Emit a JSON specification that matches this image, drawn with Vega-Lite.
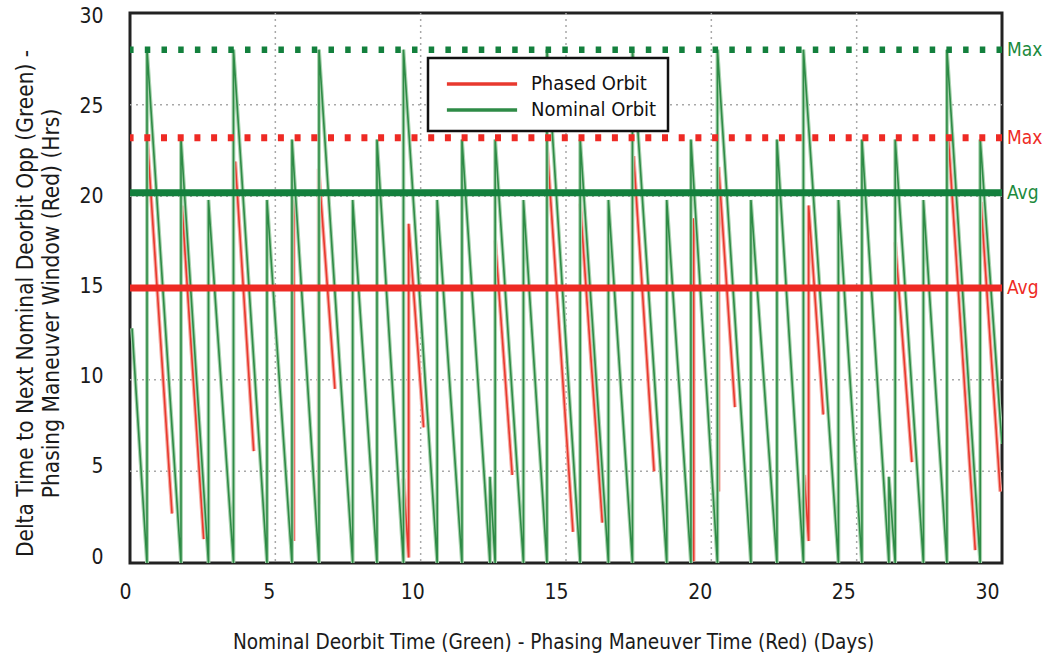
{
 "$schema": "https://vega.github.io/schema/vega-lite/v6.json",
 "width": 872,
 "height": 550,
 "autosize": {"type": "none"},
 "padding": {"left": 130, "top": 13, "right": 44, "bottom": 93},
 "background": "white",
 "config": {
  "font": "'Liberation Sans Narrow', 'DejaVu Sans Condensed', 'Roboto Condensed', sans-serif",
  "view": {"stroke": "#222222", "strokeWidth": 3},
  "axis": {"grid": false, "domain": false, "ticks": false, "tickSize": 0, "labelFlush": false, "labelFontSize": 21, "labelColor": "#1a1a1a", "titleFontSize": 20.6, "titleFontWeight": "normal", "titleColor": "#1a1a1a"}
 },
 "datasets": {
  "green": [
   {"d":0.07,"v":12.8},
   {"d":0.585,"v":0},{"d":0.585,"v":28},
   {"d":1.754,"v":0},{"d":1.754,"v":23.1},
   {"d":2.7,"v":0},{"d":2.7,"v":19.8},
   {"d":3.56,"v":0},{"d":3.56,"v":28},
   {"d":4.713,"v":0},{"d":4.713,"v":19.8},
   {"d":5.573,"v":0},{"d":5.573,"v":23.1},
   {"d":6.502,"v":0},{"d":6.502,"v":28},
   {"d":7.661,"v":0},{"d":7.661,"v":19.8},
   {"d":8.497,"v":0},{"d":8.497,"v":23.1},
   {"d":9.408,"v":0},{"d":9.408,"v":28},
   {"d":10.568,"v":0},{"d":10.568,"v":19.8},
   {"d":11.421,"v":0},{"d":11.421,"v":23.1},
   {"d":12.384,"v":0},{"d":12.384,"v":4.7},
   {"d":12.563,"v":0},{"d":12.563,"v":23.1},
   {"d":13.536,"v":0},{"d":13.536,"v":19.8},
   {"d":14.345,"v":0},{"d":14.345,"v":28},
   {"d":15.487,"v":0},{"d":15.487,"v":23.1},
   {"d":16.46,"v":0},{"d":16.46,"v":19.8},
   {"d":17.286,"v":0},{"d":17.286,"v":28},
   {"d":18.466,"v":0},{"d":18.466,"v":19.8},
   {"d":19.298,"v":0},{"d":19.298,"v":23.1},
   {"d":20.21,"v":0},{"d":20.21,"v":28},
   {"d":21.362,"v":0},{"d":21.362,"v":19.8},
   {"d":22.257,"v":0},{"d":22.257,"v":23.1},
   {"d":23.168,"v":0},{"d":23.168,"v":28},
   {"d":24.372,"v":0},{"d":24.372,"v":19.8},
   {"d":25.181,"v":0},{"d":25.181,"v":23.1},
   {"d":26.109,"v":0},{"d":26.109,"v":4.7},
   {"d":26.326,"v":0},{"d":26.326,"v":23.1},
   {"d":27.296,"v":0},{"d":27.296,"v":19.8},
   {"d":28.105,"v":0},{"d":28.105,"v":28},
   {"d":29.25,"v":0},{"d":29.25,"v":23.1},
   {"d":30.0,"v":6.5}
  ],
  "red": [
   {"seg":1,"d":0.6,"v":23.0},{"seg":1,"d":1.445,"v":2.7},
   {"seg":2,"d":1.789,"v":19.5},{"seg":2,"d":2.535,"v":1.3},
   {"seg":3,"d":3.623,"v":21.9},{"seg":3,"d":4.255,"v":6.1},
   {"seg":4,"d":5.577,"v":2.5},{"seg":4,"d":5.631,"v":1.2},{"seg":4,"d":5.631,"v":19.9},
   {"seg":5,"d":6.491,"v":3.2},{"seg":5,"d":6.491,"v":21.5},{"seg":5,"d":7.05,"v":9.5},
   {"seg":6,"d":9.408,"v":4.6},{"seg":6,"d":9.587,"v":0.3},{"seg":6,"d":9.587,"v":18.5},{"seg":6,"d":10.1,"v":7.4},
   {"seg":7,"d":12.566,"v":17.6},{"seg":7,"d":13.15,"v":4.8},
   {"seg":8,"d":14.345,"v":22.8},{"seg":8,"d":15.24,"v":1.7},
   {"seg":9,"d":15.49,"v":19.6},{"seg":9,"d":16.25,"v":2.2},
   {"seg":10,"d":17.327,"v":22.2},{"seg":10,"d":18.03,"v":5.0},
   {"seg":11,"d":19.287,"v":2.6},{"seg":11,"d":19.391,"v":0.1},{"seg":11,"d":19.391,"v":18.8},
   {"seg":12,"d":20.251,"v":3.9},{"seg":12,"d":20.251,"v":21.6},{"seg":12,"d":20.81,"v":8.5},
   {"seg":13,"d":23.197,"v":4.8},{"seg":13,"d":23.347,"v":1.2},{"seg":13,"d":23.347,"v":19.5},{"seg":13,"d":23.85,"v":8.1},
   {"seg":14,"d":26.326,"v":17.5},{"seg":14,"d":26.9,"v":5.5},
   {"seg":15,"d":28.163,"v":23.0},{"seg":15,"d":29.08,"v":0.7},
   {"seg":16,"d":29.274,"v":19.7},{"seg":16,"d":29.94,"v":3.9}
  ],
  "refs": [
   {"label":"Max","v":28.0,"s":"g"},
   {"label":"Max","v":23.2,"s":"r"},
   {"label":"Avg","v":20.2,"s":"g"},
   {"label":"Avg","v":15.0,"s":"r"}
  ],
  "grid": [{"g":5},{"g":10},{"g":15},{"g":20},{"g":25}]
 },
 "layer": [
  {
   "data": {"name": "grid"},
   "mark": {"type": "rule", "color": "#a8a8a8", "strokeWidth": 1.5, "strokeDash": [2, 4]},
   "encoding": {
    "x": {"field": "g", "type": "quantitative", "scale": {"domain": [0, 30]},
     "title": "Nominal Deorbit Time (Green) - Phasing Maneuver Time (Red) (Days)",
     "axis": {"values": [0,5,10,15,20,25,30], "labelPadding": 18, "labelOffset": {"expr": "-5 - datum.value / 3"}, "titleX": 423, "titleY": 85, "titleBaseline": "alphabetic"}}
   }
  },
  {
   "data": {"name": "grid"},
   "mark": {"type": "rule", "color": "#a8a8a8", "strokeWidth": 1.5, "strokeDash": [2, 4]},
   "encoding": {
    "y": {"field": "g", "type": "quantitative", "scale": {"domain": [0, 30]},
     "title": ["Delta Time to Next Nominal Deorbit Opp (Green) -", "Phasing Maneuver Window (Red) (Hrs)"],
     "axis": {"values": [0,5,10,15,20,25,30], "labelPadding": 27, "labelOffset": {"expr": "-6 + datum.value * 0.3"}, "titleFontSize": 22.5, "titleX": -98, "titleY": 290, "titleAngle": -90, "titleAlign": "center", "titleBaseline": "alphabetic", "titleLineHeight": 26}}
   }
  },
  {
   "data": {"name": "red"},
   "mark": {"type": "line", "color": "#f6aaa2", "strokeWidth": 3.8, "clip": true},
   "encoding": {
    "x": {"field": "d", "type": "quantitative", "title": "Nominal Deorbit Time (Green) - Phasing Maneuver Time (Red) (Days)"},
    "y": {"field": "v", "type": "quantitative", "title": ["Delta Time to Next Nominal Deorbit Opp (Green) -", "Phasing Maneuver Window (Red) (Hrs)"]},
    "detail": {"field": "seg", "type": "nominal"},
    "order": {"value": null}
   }
  },
  {
   "data": {"name": "red"},
   "mark": {"type": "line", "strokeWidth": 1.6, "clip": true},
   "encoding": {
    "x": {"field": "d", "type": "quantitative", "title": "Nominal Deorbit Time (Green) - Phasing Maneuver Time (Red) (Days)"},
    "y": {"field": "v", "type": "quantitative", "title": ["Delta Time to Next Nominal Deorbit Opp (Green) -", "Phasing Maneuver Window (Red) (Hrs)"]},
    "detail": {"field": "seg", "type": "nominal"},
    "order": {"value": null},
    "color": {"datum": "Phased Orbit", "type": "nominal",
     "scale": {"domain": ["Phased Orbit", "Nominal Orbit"], "range": ["#e8392e", "#2e8b46"]},
     "legend": {"orient": "none", "legendX": 298, "legendY": 45, "title": null, "symbolType": "M-2.7,0H2.7", "symbolSize": 676, "symbolStrokeWidth": 3.5, "symbolOffset": 28, "labelFontSize": 20, "labelColor": "#111111", "labelOffset": 34, "labelLimit": 400, "rowPadding": 1, "padding": 11, "strokeColor": "#111111", "fillColor": "white", "labelExpr": "datum.label + '\u00a0\u00a0\u00a0\u00a0\u00a0\u00a0\u00a0\u00a0\u00a0'",
      "encode": {"legend": {"update": {"strokeWidth": {"value": 2.5}}}}}
    }
   }
  },
  {
   "data": {"name": "green"},
   "mark": {"type": "line", "color": "#a9d3af", "strokeWidth": 3.8, "clip": true},
   "encoding": {
    "x": {"field": "d", "type": "quantitative", "title": "Nominal Deorbit Time (Green) - Phasing Maneuver Time (Red) (Days)"},
    "y": {"field": "v", "type": "quantitative", "title": ["Delta Time to Next Nominal Deorbit Opp (Green) -", "Phasing Maneuver Window (Red) (Hrs)"]},
    "order": {"value": null}
   }
  },
  {
   "data": {"name": "green"},
   "mark": {"type": "line", "strokeWidth": 1.6, "clip": true},
   "encoding": {
    "x": {"field": "d", "type": "quantitative", "title": "Nominal Deorbit Time (Green) - Phasing Maneuver Time (Red) (Days)"},
    "y": {"field": "v", "type": "quantitative", "title": ["Delta Time to Next Nominal Deorbit Opp (Green) -", "Phasing Maneuver Window (Red) (Hrs)"]},
    "order": {"value": null},
    "color": {"datum": "Nominal Orbit", "type": "nominal"}
   }
  },
  {
   "data": {"name": "refs"},
   "transform": [{"filter": "datum.label == 'Avg' && datum.s == 'g'"}],
   "mark": {"type": "rule", "color": "#13803d", "strokeWidth": 7},
   "encoding": {"y": {"field": "v", "type": "quantitative", "title": ["Delta Time to Next Nominal Deorbit Opp (Green) -", "Phasing Maneuver Window (Red) (Hrs)"]}}
  },
  {
   "data": {"name": "refs"},
   "transform": [{"filter": "datum.label == 'Avg' && datum.s == 'r'"}],
   "mark": {"type": "rule", "color": "#ee2a24", "strokeWidth": 7},
   "encoding": {"y": {"field": "v", "type": "quantitative", "title": ["Delta Time to Next Nominal Deorbit Opp (Green) -", "Phasing Maneuver Window (Red) (Hrs)"]}}
  },
  {
   "data": {"name": "refs"},
   "transform": [{"filter": "datum.label == 'Max' && datum.s == 'g'"}],
   "mark": {"type": "rule", "color": "#13803d", "strokeWidth": 6.5, "strokeDash": [5.5, 11.2], "strokeCap": "butt"},
   "encoding": {"y": {"field": "v", "type": "quantitative", "title": ["Delta Time to Next Nominal Deorbit Opp (Green) -", "Phasing Maneuver Window (Red) (Hrs)"]}}
  },
  {
   "data": {"name": "refs"},
   "transform": [{"filter": "datum.label == 'Max' && datum.s == 'r'"}],
   "mark": {"type": "rule", "color": "#ee2a24", "strokeWidth": 7, "strokeDash": [6, 10.7], "strokeCap": "butt"},
   "encoding": {"y": {"field": "v", "type": "quantitative", "title": ["Delta Time to Next Nominal Deorbit Opp (Green) -", "Phasing Maneuver Window (Red) (Hrs)"]}}
  },
  {
   "data": {"name": "refs"},
   "mark": {"type": "text", "align": "left", "baseline": "middle", "dx": 5, "fontSize": 19},
   "encoding": {
    "x": {"datum": 30, "type": "quantitative"},
    "y": {"field": "v", "type": "quantitative", "title": ["Delta Time to Next Nominal Deorbit Opp (Green) -", "Phasing Maneuver Window (Red) (Hrs)"]},
    "text": {"field": "label"},
    "color": {"condition": {"test": "datum.s == 'g'", "value": "#1b8a3d"}, "value": "#ee2a24"}
   }
  }
 ]
}
